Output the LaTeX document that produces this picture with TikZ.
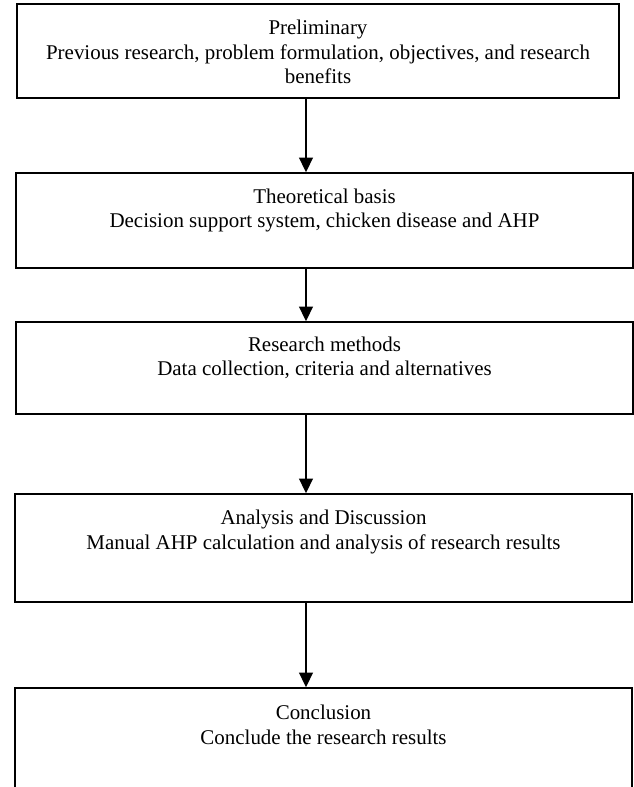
\documentclass[tikz,border=0pt]{standalone}
\usepackage{fontspec}
\setmainfont{Liberation Serif}
\usetikzlibrary{positioning,arrows.meta}

\begin{document}
\begin{tikzpicture}[
        stage/.style={draw, line width=0.9pt, minimum width=15.425cm, inner sep=0pt},
        stagetext/.style={align=center, inner sep=0pt, font=\fontsize{14.9pt}{17.4pt}\selectfont},
        flow/.style={line width=1.6pt, -{Triangle[length=0.37cm, width=0.34cm]}}
    ]

        % Frame
        \useasboundingbox (0,0) rectangle (15.85,-19.675);
        \clip (0,0) rectangle (15.85,-19.675);

        % Boxes
        \node[stage, minimum width=15.05cm, minimum height=2.35cm] (prelim) at (7.95,-1.275) {};
        \node[stage, minimum height=2.375cm] (theory) at (8.1125,-5.5125) {};
        \node[stage, minimum height=2.3cm] (methods) at (8.1125,-9.2) {};
        \node[stage, minimum height=2.7cm] (analysis) at (8.0875,-13.7) {};
        \node[stage, minimum height=2.75cm] (conclusion) at (8.0875,-18.575) {};

        % Texts
        \node[stagetext, below=0.42cm of prelim.north] (prelim-text)
            {Preliminary\\Previous research, problem formulation, objectives, and research\\benefits};
        \node[stagetext, below=0.4cm of theory.north] (theory-text)
            {Theoretical basis\\Decision support system, chicken disease and AHP};
        \node[stagetext, below=0.38cm of methods.north] (methods-text)
            {Research methods\\Data collection, criteria and alternatives};
        \node[stagetext, below=0.42cm of analysis.north] (analysis-text)
            {Analysis and Discussion\\Manual AHP calculation and analysis of research results};
        \node[stagetext, below=0.44cm of conclusion.north] (conclusion-text)
            {Conclusion\\Conclude the research results};

        % Arrows
        \coordinate (axis) at (7.65,0);
        \draw[flow] (prelim.south -| axis) -- (theory.north -| axis);
        \draw[flow] (theory.south -| axis) -- (methods.north -| axis);
        \draw[flow] (methods.south -| axis) -- (analysis.north -| axis);
        \draw[flow] (analysis.south -| axis) -- (conclusion.north -| axis);

\end{tikzpicture}
\end{document}
